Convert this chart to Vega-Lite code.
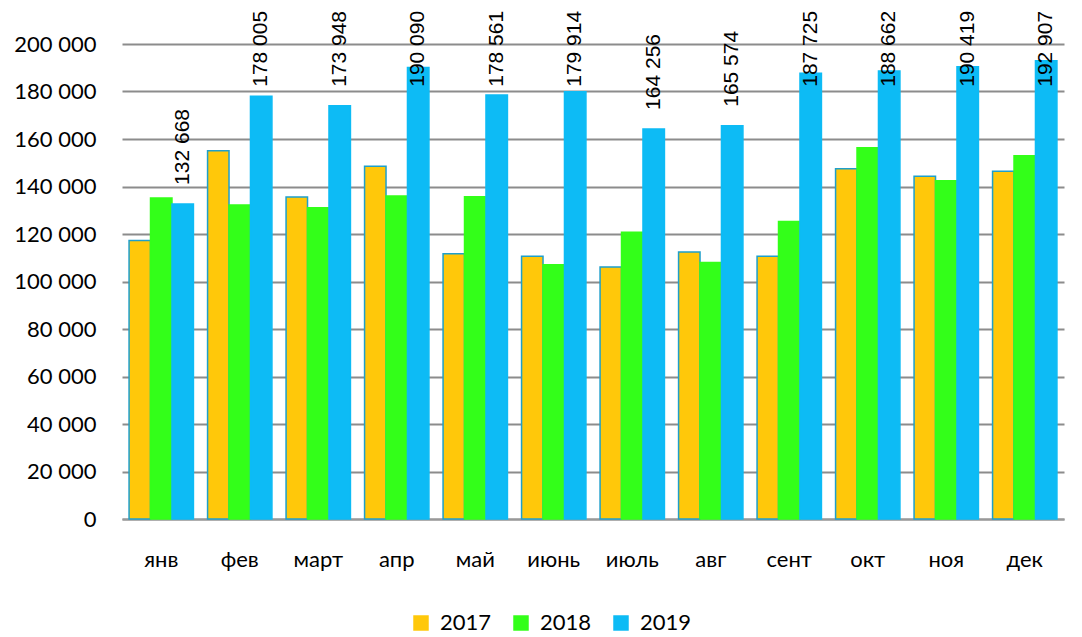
{
  "$schema": "https://vega.github.io/schema/vega-lite/v6.json",
  "width": 942,
  "height": 475,
  "autosize": {"type": "none"},
  "padding": {"left": 122, "top": 44, "right": 18, "bottom": 118},
  "background": "white",
  "config": {
    "locale": {"number": {"decimal": ",", "thousands": " ", "grouping": [3], "currency": ["", ""]}},
    "view": {"stroke": null},
    "font": "Lato"
  },
  "data": {
    "values": [
      {"month": "янв", "year": "2017", "value": 117300},
      {"month": "янв", "year": "2018", "value": 135200},
      {"month": "янв", "year": "2019", "value": 132668},
      {"month": "фев", "year": "2017", "value": 155100},
      {"month": "фев", "year": "2018", "value": 132200},
      {"month": "фев", "year": "2019", "value": 178005},
      {"month": "март", "year": "2017", "value": 135600},
      {"month": "март", "year": "2018", "value": 131100},
      {"month": "март", "year": "2019", "value": 173948},
      {"month": "апр", "year": "2017", "value": 148500},
      {"month": "апр", "year": "2018", "value": 136000},
      {"month": "апр", "year": "2019", "value": 190090},
      {"month": "май", "year": "2017", "value": 111700},
      {"month": "май", "year": "2018", "value": 135700},
      {"month": "май", "year": "2019", "value": 178561},
      {"month": "июнь", "year": "2017", "value": 110600},
      {"month": "июнь", "year": "2018", "value": 107100},
      {"month": "июнь", "year": "2019", "value": 179914},
      {"month": "июль", "year": "2017", "value": 106100},
      {"month": "июль", "year": "2018", "value": 120700},
      {"month": "июль", "year": "2019", "value": 164256},
      {"month": "авг", "year": "2017", "value": 112400},
      {"month": "авг", "year": "2018", "value": 108000},
      {"month": "авг", "year": "2019", "value": 165574},
      {"month": "сент", "year": "2017", "value": 110600},
      {"month": "сент", "year": "2018", "value": 125300},
      {"month": "сент", "year": "2019", "value": 187725},
      {"month": "окт", "year": "2017", "value": 147500},
      {"month": "окт", "year": "2018", "value": 156300},
      {"month": "окт", "year": "2019", "value": 188662},
      {"month": "ноя", "year": "2017", "value": 144300},
      {"month": "ноя", "year": "2018", "value": 142400},
      {"month": "ноя", "year": "2019", "value": 190419},
      {"month": "дек", "year": "2017", "value": 146400},
      {"month": "дек", "year": "2018", "value": 152900},
      {"month": "дек", "year": "2019", "value": 192907}
    ]
  },
  "encoding": {
    "x": {
      "field": "month",
      "type": "nominal",
      "sort": null,
      "scale": {"paddingInner": 0.18, "paddingOuter": 0.09},
      "axis": {
        "title": null,
        "labelAngle": 0,
        "labelFontSize": 22,
        "labelColor": "#000000",
        "labelPadding": 30,
        "ticks": false,
        "domain": true,
        "domainColor": "#999999",
        "domainWidth": 2
      }
    },
    "xOffset": {"field": "year", "type": "nominal"}
  },
  "layer": [
    {
      "mark": {"type": "bar", "strokeWidth": 1.5},
      "encoding": {
        "y": {
          "field": "value",
          "type": "quantitative",
          "scale": {"domain": [0, 200000], "nice": false},
          "axis": {
            "title": null,
            "values": [0, 20000, 40000, 60000, 80000, 100000, 120000, 140000, 160000, 180000, 200000],
            "labelFontSize": 22,
            "labelColor": "#000000",
            "labelPadding": 26,
            "labelOverlap": false,
            "ticks": false,
            "domain": false,
            "grid": true,
            "gridColor": "#8c8c8c",
            "gridWidth": 2,
            "format": ",.0f"
          }
        },
        "color": {
          "field": "year",
          "type": "nominal",
          "scale": {"domain": ["2017", "2018", "2019"], "range": ["#FFC80A", "#33FF19", "#0DBBF5"]},
          "legend": {
            "title": null,
            "orient": "none",
            "direction": "horizontal",
            "legendX": 288,
            "legendY": 568,
            "symbolType": "square",
            "symbolSize": 240,
            "symbolStrokeWidth": 0,
            "labelFontSize": 22,
            "labelColor": "#000000",
            "columnPadding": 18,
            "labelOffset": 8
          }
        },
        "stroke": {
          "field": "year",
          "type": "nominal",
          "scale": {"domain": ["2017", "2018", "2019"], "range": ["#1E9FCB", "#33FF19", "#0DBBF5"]},
          "legend": null
        }
      }
    },
    {
      "transform": [
        {"filter": "datum.year == '2019'"},
        {"calculate": "min(datum.value, 174000)", "as": "labelPos"}
      ],
      "mark": {
        "type": "text",
        "angle": 270,
        "align": "left",
        "baseline": "middle",
        "dx": 19,
        "font": "Liberation Sans",
        "fontSize": 21,
        "color": "#000000"
      },
      "encoding": {
        "y": {"field": "labelPos", "type": "quantitative"},
        "text": {"field": "value", "type": "quantitative", "format": ",.0f"}
      }
    }
  ]
}
